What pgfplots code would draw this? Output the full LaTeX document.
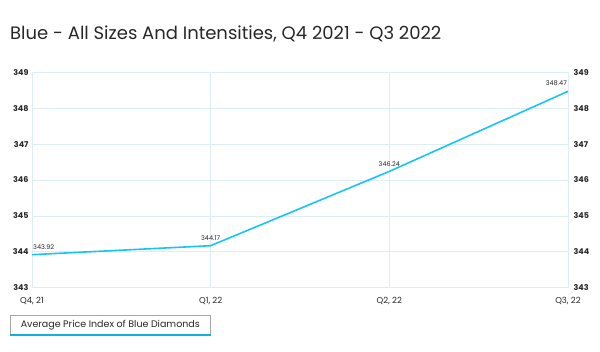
\documentclass[border=0pt]{standalone}
\usepackage{pgfplots}
\pgfplotsset{compat=1.18}
\usepackage{fontspec}
\setmainfont{Poppins}
\definecolor{lineblue}{RGB}{20,196,250}
\definecolor{gridblue}{RGB}{222,236,250}
\definecolor{txt}{RGB}{40,40,40}
\begin{document}
\begin{tikzpicture}
\path[use as bounding box] (0pt,0pt) rectangle (600pt,351pt);
\node[anchor=west, text=txt, font=\fontsize{18}{21}\selectfont, inner sep=0pt] at (10pt,317pt) {Blue - All Sizes And Intensities, Q4 2021 - Q3 2022};
\begin{axis}[
  at={(32pt,63.3pt)}, anchor=south west,
  scale only axis, width=536pt, height=215.4pt,
  xmin=0, xmax=3, ymin=343, ymax=349,
  xtick={0,1,2,3}, xticklabels={{Q4, 21},{Q1, 22},{Q2, 22},{Q3, 22}},
  ytick={343,344,...,349},
  grid=major, major grid style={gridblue, line width=0.6pt},
  axis line style={gridblue, line width=0.6pt},
  tick style={draw=none},
  xticklabel style={font=\fontsize{8.5}{10}\selectfont, text=txt, yshift=-6pt},
  yticklabel style={font=\fontsize{8}{9}\selectfont\bfseries, text=txt},
  /pgf/number format/assume math mode=true,
  /pgf/number format/fixed,
  clip=false,
  lbl/.style={draw=none, mark=none, nodes near coords, point meta=explicit symbolic,
    every node near coord/.append style={anchor=#1, font=\fontsize{6.5}{7}\selectfont, text=txt, yshift=4pt, inner sep=1pt}},
]
\addplot[lineblue, line width=1.6pt, mark=none] coordinates {(0,343.92) (1,344.17) (2,346.24) (3,348.47)};
\addplot[lbl=south west] coordinates {(0,343.92) [343.92]};
\addplot[lbl=south] coordinates {(1,344.17) [344.17] (2,346.24) [346.24]};
\addplot[lbl=south east] coordinates {(3,348.47) [348.47]};
\end{axis}
\begin{axis}[
  at={(32pt,63.3pt)}, anchor=south west,
  scale only axis, width=536pt, height=215.4pt,
  xmin=0, xmax=3, ymin=343, ymax=349,
  axis y line*=right, axis x line=none,
  ytick={343,344,...,349},
  axis line style={draw=none},
  tick style={draw=none},
  yticklabel style={font=\fontsize{8}{9}\selectfont\bfseries, text=txt, xshift=2pt},
  /pgf/number format/assume math mode=true,
]
\addplot[draw=none] coordinates {(0,343)};
\end{axis}
\node[draw=gray!70, line width=0.6pt, minimum width=200pt, minimum height=19pt, anchor=south west, inner sep=0pt, font=\fontsize{9.5}{11}\selectfont, text=txt] (leg) at (10pt,16pt) {Average Price Index of Blue Diamonds};
\draw[lineblue!90!black, line width=1.4pt] (leg.south west) -- (leg.south east);
\end{tikzpicture}
\end{document}
